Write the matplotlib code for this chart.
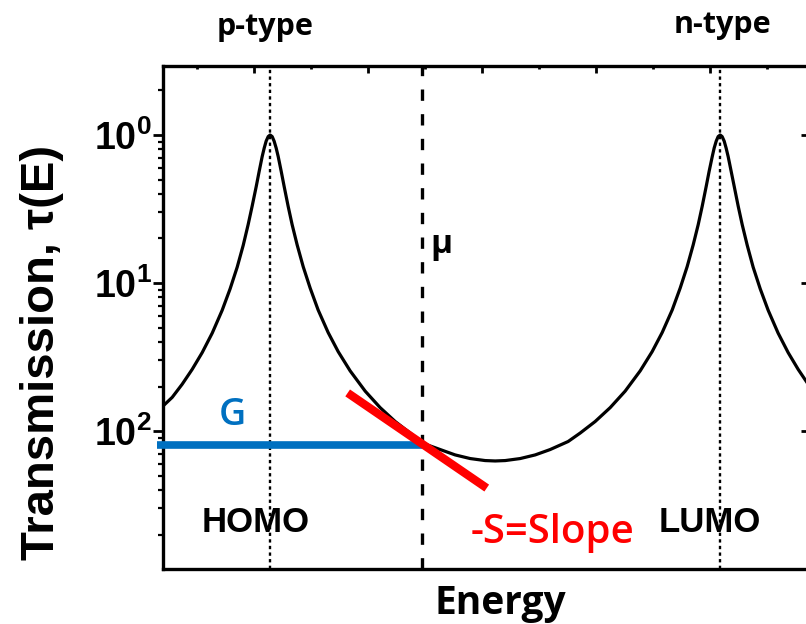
import matplotlib
matplotlib.use("Agg")
import matplotlib.pyplot as plt
from matplotlib.transforms import blended_transform_factory
from matplotlib.ticker import FixedLocator, FixedFormatter, LogLocator, NullFormatter, NullLocator

plt.rcParams["mathtext.fontset"] = "custom"
plt.rcParams["mathtext.rm"] = "Liberation Sans"
plt.rcParams["mathtext.bf"] = "Liberation Sans:bold"

# Energy in units of the top-axis major tick spacing
energy = [-0.798, -0.719, -0.632, -0.544, -0.456, -0.368, -0.281, -0.211, -0.149, -0.096,
          -0.053, -0.018, 0.018, 0.044, 0.070, 0.088, 0.105, 0.123, 0.140,
          0.158, 0.175, 0.193, 0.211, 0.237, 0.263, 0.298, 0.333, 0.377, 0.430,
          0.491, 0.561, 0.649, 0.737, 0.842, 0.974, 1.105, 1.237, 1.368, 1.474,
          1.632, 1.763, 1.895, 2.026, 2.114,
          2.202, 2.333, 2.465, 2.596, 2.754, 2.860, 2.991, 3.123, 3.254, 3.386,
          3.491, 3.579, 3.667, 3.737, 3.798, 3.851, 3.895, 3.930, 3.965, 3.991,
          4.018, 4.035, 4.053, 4.070, 4.088,
          4.105, 4.123, 4.140, 4.158, 4.184, 4.211, 4.246, 4.281, 4.325, 4.377,
          4.439, 4.509, 4.596, 4.684, 4.772, 4.860, 4.900]
transmission = [0.0148, 0.0169, 0.0207, 0.0261, 0.0339, 0.0459, 0.0654, 0.0914, 0.128, 0.180,
                0.248, 0.330, 0.449, 0.569, 0.714, 0.816, 0.909, 0.976, 1.0,
                0.976, 0.909, 0.816, 0.714, 0.569, 0.449, 0.330, 0.248, 0.181, 0.129,
                0.0925, 0.0658, 0.0463, 0.0344, 0.0255, 0.0186, 0.0144, 0.0116, 0.0097, 0.0083,
                0.0075, 0.0069, 0.00652, 0.00632, 0.00628,
                0.00632, 0.00652, 0.0069, 0.0075, 0.0085, 0.0097, 0.0116, 0.0144, 0.0186, 0.0255,
                0.0344, 0.0463, 0.0658, 0.0925, 0.129, 0.181, 0.248, 0.330, 0.449, 0.569,
                0.714, 0.816, 0.909, 0.976, 1.0,
                0.976, 0.909, 0.816, 0.714, 0.569, 0.449, 0.330, 0.248, 0.180, 0.128,
                0.0914, 0.0654, 0.0459, 0.0339, 0.0261, 0.0207, 0.0188]

homo_level = 0.14
lumo_level = 4.09
mu_level = 1.47
conductance = 0.0081
slope_energy = [0.82, 2.04]
slope_transmission = [0.0181, 0.00412]

ytick_values = [1.0, 0.1, 0.01]
ytick_labels = [r"$\mathbf{10^{0}}$", r"$\mathbf{10^{1}}$", r"$\mathbf{10^{2}}$"]
top_major = [0, 1, 2, 3, 4]
top_minor = [-0.5, 0.5, 1.5, 2.5, 3.5, 4.5]

BLUE = "#0070C0"
RED = "#FF0000"
SANS = ["Open Sans", "DejaVu Sans"]
ARIAL = ["Liberation Sans", "DejaVu Sans"]

fig = plt.figure(figsize=(8.06, 6.24), dpi=100)
ax = fig.add_axes([0.2022, 0.0881, 0.8062, 0.8061])
ax.set_yscale("log")
ax.set_xlim(-0.80, 4.90)
ax.set_ylim(10 ** -2.932, 10 ** 0.466)

# orbital levels and chemical potential
for lvl in (homo_level, lumo_level):
    ax.axvline(lvl, color="black", lw=1.7, linestyle=(0, (1.4, 1.4)), zorder=1)
ax.axvline(mu_level, color="black", lw=2.4, linestyle=(0, (3.4, 4.0)), zorder=1)

# transmission spectrum
ax.plot(energy, transmission, color="black", lw=2.3, solid_joinstyle="round", zorder=3)

# conductance level up to mu, and tangent slope
ax.plot([-0.85, mu_level], [conductance, conductance], color=BLUE, lw=5.5,
        solid_capstyle="butt", clip_on=False, zorder=4)
ax.plot(slope_energy, slope_transmission, color=RED, lw=6, solid_capstyle="butt", zorder=5)

# spines and ticks
for side in ("left", "top", "bottom", "right"):
    ax.spines[side].set_linewidth(2.4)

ax.xaxis.set_major_locator(FixedLocator(top_major))
ax.xaxis.set_minor_locator(FixedLocator(top_minor))
ax.xaxis.set_major_formatter(NullFormatter())
ax.tick_params(axis="x", which="both", top=True, bottom=False, direction="in",
               labeltop=False, labelbottom=False)
ax.tick_params(axis="x", which="major", length=5, width=2)
ax.tick_params(axis="x", which="minor", length=2.5, width=2)

ax.yaxis.set_major_locator(FixedLocator(ytick_values))
ax.yaxis.set_major_formatter(FixedFormatter(ytick_labels))
ax.yaxis.set_minor_locator(LogLocator(base=10, subs=range(2, 10)))
ax.yaxis.set_minor_formatter(NullFormatter())
ax.tick_params(axis="y", which="both", left=True, right=False, direction="out")
ax.tick_params(axis="y", which="major", length=7, width=2, labelsize=27, pad=1)
ax.tick_params(axis="y", which="minor", length=3.5, width=1.6)

right = ax.secondary_yaxis("right")
right.yaxis.set_major_locator(FixedLocator(ytick_values))
right.yaxis.set_minor_locator(NullLocator())
right.yaxis.set_major_formatter(NullFormatter())
right.tick_params(axis="y", which="major", direction="in", length=9, width=2)

ax.set_ylabel("Transmission, τ(E)", fontsize=34, fontfamily=ARIAL, fontweight="bold")
ax.yaxis.set_label_coords(-0.186, 0.431)
ax.yaxis.label.set_va("center")

ax.set_xlabel("Energy", fontsize=28, fontfamily=SANS, fontweight="bold")
ax.xaxis.set_label_coords(0.519, -0.068)
ax.xaxis.label.set_va("center")

# annotations
top_band = blended_transform_factory(ax.transData, fig.transFigure)
ax.text(0.096, 0.957, "p-type", transform=top_band, ha="center", va="center",
        fontsize=22, fontfamily=SANS, fontweight="bold")
ax.text(4.105, 0.96, "n-type", transform=top_band, ha="center", va="center",
        fontsize=22, fontfamily=SANS, fontweight="bold")
ax.text(0.01, 0.00243, "HOMO", ha="center", va="center", fontsize=25,
        fontfamily=ARIAL, fontweight="bold")
ax.text(4.0, 0.00243, "LUMO", ha="center", va="center", fontsize=25,
        fontfamily=ARIAL, fontweight="bold")
ax.text(-0.19, 0.0128, "G", color=BLUE, ha="center", va="center", fontsize=27,
        fontfamily=SANS, fontweight="semibold")
ax.text(1.64, 0.181, "μ", ha="center", va="center", fontsize=24,
        fontfamily=SANS, fontweight="bold")
ax.text(2.62, 0.00205, "-S=Slope", color=RED, ha="center", va="center", fontsize=29,
        fontfamily=SANS, fontweight="semibold")

fig.savefig("out.png", dpi=100)
